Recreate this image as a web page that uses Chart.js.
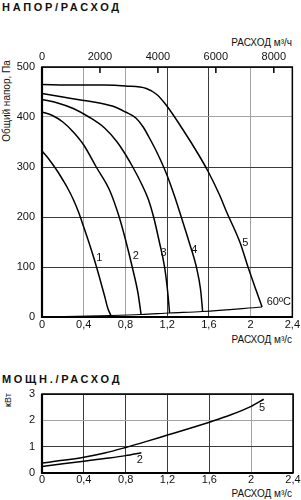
<!DOCTYPE html>
<html lang="ru">
<head>
<meta charset="UTF-8">
<title>Напор / Расход</title>
<script src="https://cdn.jsdelivr.net/npm/chart.js@4.4.0/dist/chart.umd.min.js"></script>
<style>
  body { margin: 0; width: 301px; height: 500px; background: #fff; position: relative; overflow: hidden;
         font-family: "Liberation Sans", Arial, sans-serif; color: #111; }
  .t { position: absolute; white-space: nowrap; line-height: 1; transform: translateY(-50%); }
  .r { right: 9px; font-size: 10px; }
  .head { left: 2px; font-size: 11px; letter-spacing: 2.7px; font-weight: 600; }
  .rot { position: absolute; white-space: nowrap; line-height: 1; transform: translate(-50%, -50%) rotate(-90deg); }
  #box1 { position: absolute; left: 0; top: 0; width: 301px; height: 350px; }
  #box2 { position: absolute; left: 0; top: 360px; width: 301px; height: 140px; }
</style>
</head>
<body>

<div class="t head" style="top:7px">НАПОР/РАСХОД</div>
<div class="t r" style="top:43px">РАСХОД м³/ч</div>
<div class="rot" style="left:7px; top:101px; font-size:10px">Общий напор, Па</div>
<div class="t r" style="top:340px">РАСХОД м³/с</div>

<div class="t head" style="top:379px">МОЩН./РАСХОД</div>
<div class="rot" style="left:8px; top:400px; font-size:9px">кВт</div>
<div class="t r" style="top:494px">РАСХОД м³/с</div>

<div id="box1"><canvas id="chart1"></canvas></div>
<div id="box2"><canvas id="chart2"></canvas></div>

<script>
// pressure curves, flow in m3/s, pressure in Pa
var flow1 = [0, 0.05, 0.1, 0.15, 0.2, 0.25, 0.3, 0.35, 0.4, 0.45, 0.5, 0.55, 0.6, 0.63, 0.66];
var head1 = [332, 320, 306, 291, 274, 256, 235, 210, 180, 149, 116, 80, 42, 18, 3];

var flow2 = [0, 0.1, 0.2, 0.3, 0.4, 0.52, 0.647, 0.74, 0.8, 0.865, 0.92, 0.95];
var head2 = [410, 403, 390, 370, 344, 300, 254, 200, 155, 100, 48, 5];

var flow3 = [0, 0.15, 0.3, 0.45, 0.6, 0.72, 0.8, 0.87, 0.95, 1.02, 1.07, 1.125, 1.175, 1.205, 1.223];
var head3 = [435, 428, 417, 400, 378, 350, 325, 300, 268, 235, 200, 150, 100, 50, 8];

var flow4 = [0, 0.2, 0.4, 0.55, 0.7, 0.8, 0.9, 0.97, 1.03, 1.1, 1.19, 1.27, 1.335, 1.41, 1.48, 1.52, 1.54];
var head4 = [447, 440, 433, 428, 420, 410, 398, 380, 358, 330, 288, 242, 200, 150, 100, 55, 11];

var flow5 = [0, 0.3, 0.6, 0.8, 1.0, 1.1, 1.19, 1.35, 1.5, 1.59, 1.7, 1.77, 1.9, 1.975, 2.05, 2.11];
var head5 = [465, 464, 464, 462, 457, 445, 424, 375, 325, 292, 245, 210, 148, 100, 55, 20];

// 60 C limit line
var flowHot = [0, 0.66, 0.95, 1.223, 1.54, 2.11];
var headHot = [0, 3, 5, 8, 11, 20];

// power curves, kW
var powFlow5 = [0, 0.2, 0.4, 0.6, 0.8, 1.0, 1.2, 1.4, 1.6, 1.8, 2.0, 2.12];
var power5 = [0.38, 0.48, 0.6, 0.76, 0.97, 1.2, 1.44, 1.68, 1.93, 2.2, 2.53, 2.8];
var powFlow2 = [0, 0.2, 0.4, 0.6, 0.8, 0.95];
var power2 = [0.25, 0.35, 0.45, 0.55, 0.66, 0.77];

// top axis, m3/h
var hourTicks = [0, 2000, 4000, 6000, 8000];

// curve names placed at data coordinates
var headNames = [
  { text: "1", x: 0.55, y: 118 },
  { text: "2", x: 0.9, y: 122 },
  { text: "3", x: 1.165, y: 128 },
  { text: "4", x: 1.46, y: 134 },
  { text: "5", x: 1.95, y: 148 },
  { text: "60ºC", x: 2.27, y: 30 }
];
var powerNames = [
  { text: "5", x: 2.105, y: 2.47 },
  { text: "2", x: 0.935, y: 0.48 }
];

function pts(xs, ys) {
  return xs.map(function (x, i) { return { x: x, y: ys[i] }; });
}

function near(v, list) {
  return list.some(function (a) { return Math.abs(v - a) < 1e-6; });
}

function commaTick(v) {
  return String(parseFloat(v.toFixed(1))).replace(".", ",");
}

function curve(data, w) {
  return { data: data, borderColor: "#000", borderWidth: w || 1.5, pointRadius: 0,
           showLine: true, fill: false, cubicInterpolationMode: "monotone", clip: false };
}

var font = { family: "'Liberation Sans', Arial, sans-serif", size: 11 };

// frame, inner top ticks and curve names
var decor = {
  id: "decor",
  afterDraw: function (chart, args, opts) {
    var ctx = chart.ctx, a = chart.chartArea;
    ctx.save();
    ctx.strokeStyle = "#000";
    ctx.lineWidth = 1.5;
    ctx.strokeRect(a.left, a.top, a.right - a.left, a.bottom - a.top);
    ctx.lineWidth = 2.2;
    ctx.beginPath();
    ctx.moveTo(a.left, a.top);
    ctx.lineTo(a.left, a.bottom);
    ctx.lineTo(a.right, a.bottom);
    ctx.stroke();

    var top = chart.scales.x2;
    if (top) {
      ctx.lineWidth = 1.5;
      top.ticks.forEach(function (t) {
        var px = top.getPixelForValue(t.value);
        if (px <= a.left + 1) return;
        ctx.beginPath();
        ctx.moveTo(px, a.top);
        ctx.lineTo(px, a.top + 6);
        ctx.stroke();
      });
    }

    ctx.fillStyle = "#111";
    ctx.font = "11px 'Liberation Sans', Arial, sans-serif";
    ctx.textAlign = "center";
    ctx.textBaseline = "middle";
    (opts.names || []).forEach(function (n) {
      ctx.fillText(n.text, chart.scales.x.getPixelForValue(n.x), chart.scales.y.getPixelForValue(n.y));
    });
    ctx.restore();
  }
};

Chart.register(decor);

new Chart(document.getElementById("chart1"), {
  type: "scatter",
  data: {
    datasets: [
      curve(pts(flow1, head1)),
      curve(pts(flow2, head2)),
      curve(pts(flow3, head3)),
      curve(pts(flow4, head4)),
      curve(pts(flow5, head5)),
      curve(pts(flowHot, headHot), 1.2)
    ]
  },
  options: {
    responsive: true,
    maintainAspectRatio: false,
    animation: false,
    layout: { padding: { top: 0, right: 8, bottom: 0, left: 0 } },
    plugins: { legend: { display: false }, tooltip: { enabled: false }, decor: { names: headNames } },
    scales: {
      x: {
        type: "linear", position: "bottom", min: 0, max: 2.4,
        ticks: { stepSize: 0.4, callback: commaTick, font: font, color: "#111", padding: 1, maxRotation: 0 },
        grid: { drawTicks: false, lineWidth: 1,
                color: function (c) { return near(c.tick.value, [0.4, 0.8, 2.0]) ? "#a3a3a3" : "#3a3a3a"; } },
        border: { display: false },
        afterFit: function (s) { s.height = 33; }
      },
      x2: {
        type: "linear", position: "top", min: 0, max: 8640,
        ticks: { font: font, color: "#111", padding: 3, maxRotation: 0, autoSkip: false,
                 callback: function (v) { return String(v); } },
        afterBuildTicks: function (s) { s.ticks = hourTicks.map(function (v) { return { value: v }; }); },
        grid: { drawOnChartArea: false, drawTicks: false },
        border: { display: false },
        afterFit: function (s) { s.height = 67; }
      },
      y: {
        min: 0, max: 500,
        ticks: { stepSize: 100, font: font, color: "#111", padding: 7 },
        grid: { drawTicks: false, lineWidth: 1,
                color: function (c) { return near(c.tick.value, [400]) ? "#a3a3a3" : "#3a3a3a"; } },
        border: { display: false },
        afterFit: function (s) { s.width = 42; }
      }
    }
  }
});

new Chart(document.getElementById("chart2"), {
  type: "scatter",
  data: {
    datasets: [
      curve(pts(powFlow5, power5)),
      curve(pts(powFlow2, power2))
    ]
  },
  options: {
    responsive: true,
    maintainAspectRatio: false,
    animation: false,
    layout: { padding: { top: 34, right: 8, bottom: 0, left: 0 } },
    plugins: { legend: { display: false }, tooltip: { enabled: false }, decor: { names: powerNames } },
    scales: {
      x: {
        type: "linear", min: 0, max: 2.4,
        ticks: { stepSize: 0.4, callback: commaTick, font: font, color: "#111", padding: 0, maxRotation: 0 },
        grid: { drawTicks: false, lineWidth: 1,
                color: function (c) { return near(c.tick.value, [2.0]) ? "#a3a3a3" : "#3a3a3a"; } },
        border: { display: false },
        afterFit: function (s) { s.height = 27; }
      },
      y: {
        min: 0, max: 3,
        ticks: { stepSize: 1, font: font, color: "#111", padding: 7 },
        grid: { drawTicks: false, lineWidth: 1,
                color: function (c) { return near(c.tick.value, [2]) ? "#a3a3a3" : "#3a3a3a"; } },
        border: { display: false },
        afterFit: function (s) { s.width = 42; }
      }
    }
  }
});
</script>
</body>
</html>
